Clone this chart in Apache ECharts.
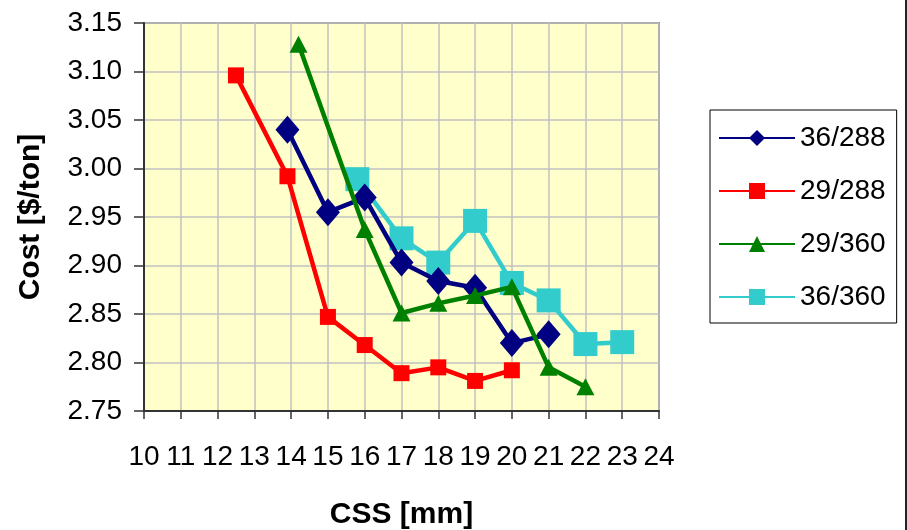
<!DOCTYPE html>
<html>
<head>
<meta charset="utf-8">
<script src="https://cdn.jsdelivr.net/npm/echarts@6/dist/echarts.min.js"></script>
<style>
  html, body { margin: 0; padding: 0; background: #ffffff; }
  #chart { width: 907px; height: 530px; }
</style>
</head>
<body>
<div id="chart"></div>
<script>
// CSS setting [mm] versus cost [$/ton] for four configurations
const seriesNames = ['36/288', '29/288', '29/360', '36/360'];

const css36_288 = [13.9, 15, 16, 17, 18, 19, 20, 21];
const cost36_288 = [3.040, 2.955, 2.970, 2.903, 2.884, 2.877, 2.820, 2.829];

const css29_288 = [12.5, 13.9, 15, 16, 17, 18, 19, 20];
const cost29_288 = [3.096, 2.992, 2.847, 2.818, 2.789, 2.795, 2.781, 2.792];

const css29_360 = [14.2, 16, 17, 18, 19, 20, 21, 22];
const cost29_360 = [3.128, 2.937, 2.851, 2.861, 2.869, 2.878, 2.795, 2.775];

const css36_360 = [15.8, 17, 18, 19, 20, 21, 22, 23];
const cost36_360 = [2.989, 2.928, 2.903, 2.946, 2.882, 2.864, 2.819, 2.821];

const xTicks = { min: 10, max: 24, step: 1 };
const yTicks = { min: 2.75, max: 3.15, step: 0.05 };

const pair = (xs, ys) => xs.map((x, i) => [x, ys[i]]);

const FONT = '"Liberation Sans", Arial, sans-serif';

const chart = echarts.init(document.getElementById('chart'), null, { renderer: 'canvas' });

function lineSeries(name, xs, ys, color, symbol, size, z) {
  return {
    name: name,
    type: 'line',
    data: pair(xs, ys),
    symbol: symbol,
    symbolSize: size,
    showAllSymbol: true,
    z: z,
    lineStyle: { color: color, width: 4.5 },
    itemStyle: { color: color, borderWidth: 0 },
    emphasis: { disabled: true },
    animation: false
  };
}

chart.setOption({
  animation: false,
  grid: {
    left: 144, right: 248, top: 23, bottom: 119,
    containLabel: false,
    outerBoundsMode: 'none',
    show: true,
    backgroundColor: '#FFFFCC',
    borderColor: '#808080',
    borderWidth: 2
  },
  xAxis: {
    type: 'value',
    min: xTicks.min, max: xTicks.max, interval: xTicks.step,
    name: 'CSS [mm]',
    nameLocation: 'middle',
    nameGap: 89,
    nameTextStyle: { fontFamily: FONT, fontSize: 30, fontWeight: 'bold', color: '#000' },
    axisLine: { show: true, onZero: false, lineStyle: { color: '#333', width: 2 } },
    axisTick: { show: true, inside: false, length: 8, lineStyle: { color: '#333', width: 1.5 } },
    axisLabel: { margin: 32, fontFamily: FONT, fontSize: 28, color: '#000' },
    splitLine: { show: true, lineStyle: { color: '#C0C0C0', width: 1.5 } }
  },
  yAxis: {
    type: 'value',
    min: yTicks.min, max: yTicks.max, interval: yTicks.step,
    name: 'Cost [$/ton]',
    nameLocation: 'middle',
    nameGap: 98,
    nameRotate: 90,
    nameTextStyle: { fontFamily: FONT, fontSize: 30, fontWeight: 'bold', color: '#000' },
    axisLine: { show: true, onZero: false, lineStyle: { color: '#333', width: 2 } },
    axisTick: { show: true, inside: false, length: 10, lineStyle: { color: '#333', width: 1.5 } },
    axisLabel: {
      margin: 22, fontFamily: FONT, fontSize: 28, color: '#000',
      formatter: v => v.toFixed(2)
    },
    splitLine: { show: true, lineStyle: { color: '#C0C0C0', width: 1.5 } }
  },
  legend: {
    orient: 'vertical',
    left: 710, top: 110,
    data: seriesNames,
    backgroundColor: '#FFFFFF',
    borderColor: '#000',
    borderWidth: 1,
    padding: [14, 11, 12, 8],
    itemGap: 25,
    itemWidth: 76,
    itemHeight: 20,
    selectedMode: false,
    textStyle: { fontFamily: FONT, fontSize: 28, color: '#000' }
  },
  series: [
    lineSeries(seriesNames[3], css36_360, cost36_360, '#33CCCC', 'rect', 24, 2),
    lineSeries(seriesNames[1], css29_288, cost29_288, '#FF0000', 'rect', 16, 3),
    lineSeries(seriesNames[0], css36_288, cost36_288, '#000080', 'diamond', [24, 28], 4),
    lineSeries(seriesNames[2], css29_360, cost29_360, '#008000', 'triangle', [18, 17], 5)
  ],
  graphic: [
    { type: 'rect', shape: { x: 905, y: 0, width: 2, height: 530 }, style: { fill: '#222' }, silent: true }
  ]
});
</script>
</body>
</html>
